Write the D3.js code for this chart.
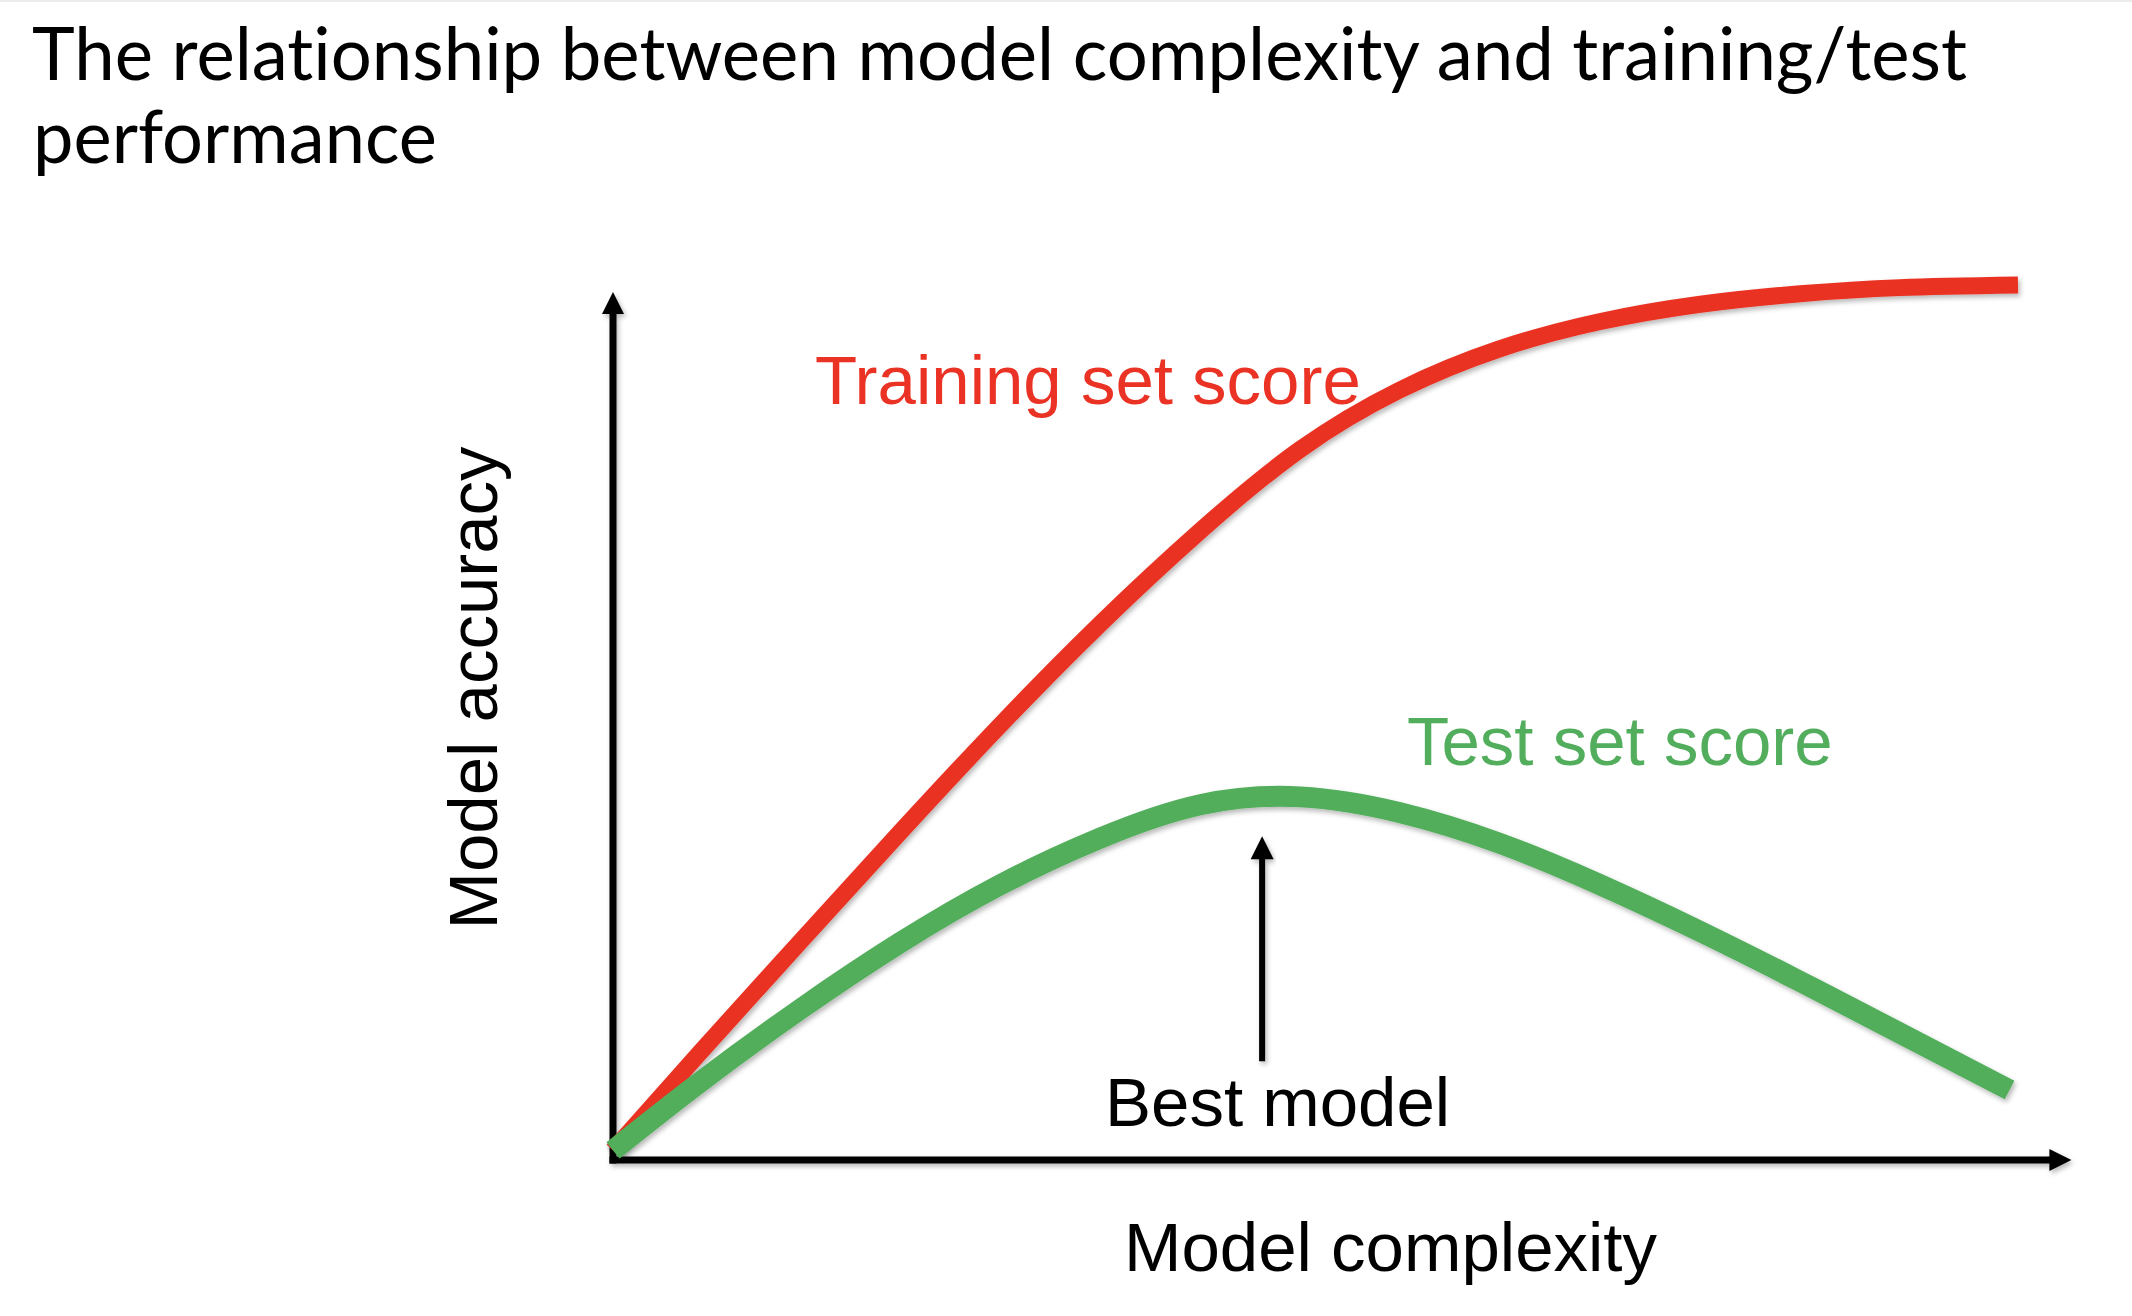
<!DOCTYPE html>
<html>
<head>
<meta charset="utf-8">
<script src="https://cdn.jsdelivr.net/npm/d3@7"></script>
<style>
  html, body { margin: 0; padding: 0; background: #fff; }
  svg { display: block; }
  text { font-variant-ligatures: none; font-feature-settings: "liga" 0, "clig" 0; }
</style>
</head>
<body>
<svg id="chart" width="2132" height="1316"></svg>
<script>
// ---------- data ----------
const titleLines = ["The relationship between model complexity and training/test", "performance"];
const xLabel = "Model complexity";
const yLabel = "Model accuracy";
const trainLabel = "Training set score";
const testLabel = "Test set score";
const bestLabel = "Best model";

// model complexity (0–100) and accuracy (0–100)
const trainComplexity = [0, 6.2, 13.3, 20.4, 27.5, 34.7, 41.8, 48.9, 56.0, 63.1, 70.2, 77.4, 84.5, 91.6, 100];
const trainAccuracy   = [1.1, 12.3, 24.9, 37.4, 49.6, 61.3, 71.9, 81.2, 88.0, 92.7, 95.8, 97.8, 99.0, 99.7, 100];

const testComplexity  = [0, 6.2, 13.3, 20.4, 27.5, 34.7, 41.8, 48.9, 56.0, 63.1, 70.2, 77.4, 84.5, 91.6, 99.4];
const testAccuracy    = [1.1, 8.9, 17.2, 24.8, 31.4, 36.8, 40.6, 41.5, 39.7, 36.2, 31.5, 26.1, 20.4, 14.5, 8.0];

const bestComplexity = 46.2;
const bestArrowFrom = 11.3;
const bestArrowTo = 37.0;

// ---------- layout ----------
const svg = d3.select("#chart");
const x = d3.scaleLinear().domain([0, 100]).range([613, 2018]);
const y = d3.scaleLinear().domain([0, 100]).range([1160, 285]);

const RED = "#EA3324";
const GREEN = "#52AE5C";
const LABEL_FONT = "'Liberation Sans', Arial, Helvetica, sans-serif";

svg.append("rect").attr("width", 2132).attr("height", 1316).attr("fill", "#fff");
svg.append("rect").attr("width", 2132).attr("height", 2).attr("fill", "#ececec");

const defs = svg.append("defs");
const f = defs.append("filter").attr("id", "shadow")
  .attr("x", "-10%").attr("y", "-10%").attr("width", "120%").attr("height", "120%");
f.append("feDropShadow").attr("dx", 2).attr("dy", 3).attr("stdDeviation", 2.5)
  .attr("flood-color", "#000").attr("flood-opacity", 0.28);

// ---------- title ----------
const titleG = svg.append("g");
titleG.append("text")
  .attr("x", 32).attr("y", 80)
  .attr("font-family", "Lato, 'Open Sans', sans-serif")
  .attr("font-size", 73)
  .attr("textLength", 1935).attr("lengthAdjust", "spacingAndGlyphs")
  .attr("fill", "#000")
  .text(titleLines[0]);
titleG.append("text")
  .attr("x", 33).attr("y", 163)
  .attr("font-family", "Lato, 'Open Sans', sans-serif")
  .attr("font-size", 73)
  .attr("textLength", 404).attr("lengthAdjust", "spacingAndGlyphs")
  .attr("fill", "#000")
  .text(titleLines[1]);

// ---------- axes (arrows) ----------
const axisG = svg.append("g").attr("filter", "url(#shadow)");
const ax0 = x(0), ay0 = y(0);
const yTip = y(99.2), xTip = x(103.8);
const head = 22, halfW = 11;

axisG.append("line")
  .attr("x1", ax0).attr("y1", ay0 + 3.5).attr("x2", ax0).attr("y2", yTip + head - 1)
  .attr("stroke", "#000").attr("stroke-width", 7);
axisG.append("path")
  .attr("d", `M${ax0},${yTip} L${ax0 + halfW},${yTip + head} L${ax0 - halfW},${yTip + head} Z`)
  .attr("fill", "#000");

axisG.append("line")
  .attr("x1", ax0 - 3.5).attr("y1", ay0).attr("x2", xTip - head + 1).attr("y2", ay0)
  .attr("stroke", "#000").attr("stroke-width", 7);
axisG.append("path")
  .attr("d", `M${xTip},${ay0} L${xTip - head},${ay0 - halfW} L${xTip - head},${ay0 + halfW} Z`)
  .attr("fill", "#000");

// ---------- curves ----------
const line = d3.line().x(d => x(d[0])).y(d => y(d[1])).curve(d3.curveNatural);
const trainData = trainComplexity.map((c, i) => [c, trainAccuracy[i]]);
const testData = testComplexity.map((c, i) => [c, testAccuracy[i]]);

svg.append("path")
  .datum(trainData)
  .attr("d", line)
  .attr("fill", "none")
  .attr("stroke", RED)
  .attr("stroke-width", 17)
  .attr("stroke-linecap", "butt")
  .attr("filter", "url(#shadow)");

svg.append("path")
  .datum(testData)
  .attr("d", line)
  .attr("fill", "none")
  .attr("stroke", GREEN)
  .attr("stroke-width", 21)
  .attr("stroke-linecap", "butt")
  .attr("filter", "url(#shadow)");

// ---------- best model arrow ----------
const bx = x(bestComplexity);
const bTop = y(bestArrowTo), bBot = y(bestArrowFrom);
const bestG = svg.append("g").attr("filter", "url(#shadow)");
bestG.append("line")
  .attr("x1", bx).attr("y1", bBot).attr("x2", bx).attr("y2", bTop + 22)
  .attr("stroke", "#000").attr("stroke-width", 6);
bestG.append("path")
  .attr("d", `M${bx},${bTop} L${bx + 11.5},${bTop + 23} L${bx - 11.5},${bTop + 23} Z`)
  .attr("fill", "#000");

// ---------- labels ----------
svg.append("text")
  .attr("x", 815).attr("y", 404)
  .attr("font-family", LABEL_FONT).attr("font-size", 69)
  .attr("fill", RED)
  .text(trainLabel);

svg.append("text")
  .attr("x", 1407).attr("y", 765)
  .attr("font-family", LABEL_FONT).attr("font-size", 69)
  .attr("fill", GREEN)
  .text(testLabel);

svg.append("text")
  .attr("x", 1105).attr("y", 1126)
  .attr("font-family", LABEL_FONT).attr("font-size", 69)
  .attr("fill", "#000")
  .text(bestLabel);

svg.append("text")
  .attr("x", 1124).attr("y", 1271)
  .attr("font-family", LABEL_FONT).attr("font-size", 69)
  .attr("fill", "#000")
  .text(xLabel);

svg.append("text")
  .attr("transform", "translate(497,688) rotate(-90)")
  .attr("text-anchor", "middle")
  .attr("font-family", LABEL_FONT).attr("font-size", 69)
  .attr("fill", "#000")
  .text(yLabel);
</script>
</body>
</html>
